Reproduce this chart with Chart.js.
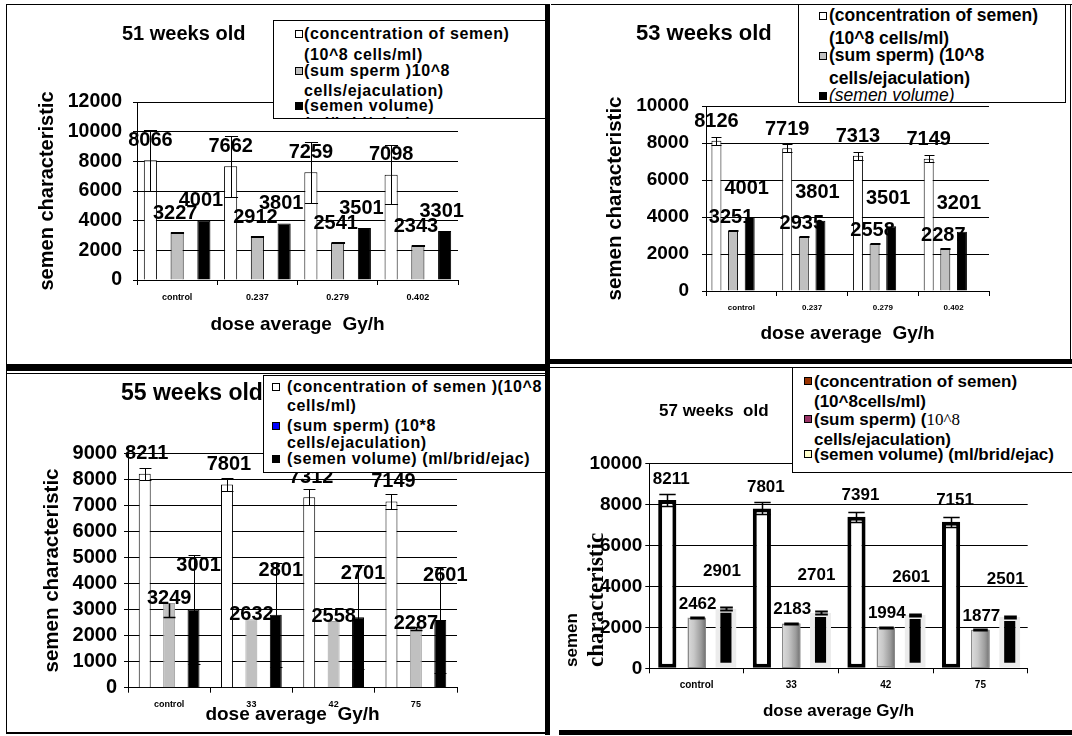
<!DOCTYPE html>
<html><head><meta charset="utf-8">
<script src="https://cdn.jsdelivr.net/npm/chart.js@4.4.1/dist/chart.umd.min.js"></script>
<style>
body{margin:0;background:#fff;width:1072px;height:736px;position:relative;overflow:hidden;font-family:"Liberation Sans",Arial,sans-serif;color:#000;}
canvas.layer{position:absolute;left:0;top:0;}
.ln{position:absolute;background:#000;}
.title{position:absolute;font-weight:bold;white-space:pre;line-height:1;transform:translateY(-50%);}
.legend{position:absolute;border:1px solid #000;background:#fff;overflow:hidden;box-sizing:border-box;}
.legend .t{position:absolute;white-space:pre;font-weight:bold;line-height:1;transform:translateY(-50%);}
.legend .m{position:absolute;width:8px;height:8px;border:1px solid #000;box-sizing:border-box;transform:translateY(-50%);}
.ytitle4{position:absolute;left:560px;top:667px;transform:rotate(-90deg);transform-origin:0 0;white-space:nowrap;font-weight:bold;}
</style>
</head><body>
<canvas id="c51" class="layer" width="1072" height="736"></canvas>
<canvas id="c53" class="layer" width="1072" height="736"></canvas>
<canvas id="c55" class="layer" width="1072" height="736"></canvas>
<canvas id="c57" class="layer" width="1072" height="736"></canvas>

<!-- frames -->
<div class="ln" style="left:6px;top:4px;width:1px;height:730px"></div>
<div class="ln" style="left:6px;top:4px;width:542px;height:1px"></div>
<div class="ln" style="left:6px;top:364px;width:544px;height:7px"></div>
<div class="ln" style="left:6px;top:373px;width:540px;height:1px"></div>
<div class="ln" style="left:6px;top:732px;width:542px;height:2px"></div>
<div class="ln" style="left:545px;top:4px;width:5px;height:731px"></div>
<div class="ln" style="left:551px;top:4px;width:521px;height:1px"></div>
<div class="ln" style="left:1070px;top:4px;width:1px;height:358px"></div>
<div class="ln" style="left:549px;top:359px;width:523px;height:5px"></div>
<div class="ln" style="left:550px;top:367px;width:522px;height:1px"></div>
<div class="ln" style="left:559px;top:730px;width:513px;height:5px"></div>

<!-- titles -->
<div class="title" style="left:122px;top:33px;font-size:20px">51 weeks old</div>
<div class="title" style="left:636px;top:33px;font-size:22px">53 weeks old</div>
<div class="title" style="left:121px;top:392px;font-size:23px">55 weeks old</div>
<div class="title" style="left:659px;top:410px;font-size:17px">57 weeks  old</div>

<div class="ytitle4"><div style="font-family:'Liberation Sans',Arial,sans-serif;font-size:17px;line-height:23px">semen</div><div style="font-family:'Liberation Serif','Times New Roman',serif;font-size:23px;line-height:26px">characteristic</div></div>

<!-- legend 51 -->
<div class="legend" style="left:273px;top:20px;width:273px;height:99px">
  <div class="m" style="left:21px;top:13px;background:#fff"></div>
  <div class="t" style="left:30px;top:13px;font-size:16px;letter-spacing:0.6px">(concentration of semen)</div>
  <div class="t" style="left:30px;top:34px;font-size:16px;letter-spacing:0.6px">(10^8 cells/ml)</div>
  <div class="m" style="left:21px;top:50px;background:#c0c0c0"></div>
  <div class="t" style="left:30px;top:50px;font-size:16px;letter-spacing:0.6px">(sum sperm )10^8</div>
  <div class="t" style="left:30px;top:70px;font-size:16px;letter-spacing:0.6px">cells/ejaculation)</div>
  <div class="m" style="left:21px;top:85px;background:#000"></div>
  <div class="t" style="left:30px;top:85px;font-size:16px;letter-spacing:0.6px">(semen volume)</div>
  <div class="t" style="left:30px;top:103px;font-size:16px;letter-spacing:0.6px">(ml/brid/ejac)</div>
</div>

<!-- legend 53 -->
<div class="legend" style="left:798px;top:4px;width:268px;height:99px">
  <div class="m" style="left:20px;top:11px;background:#fff"></div>
  <div class="t" style="left:30px;top:11px;font-size:17.5px">(concentration of semen)</div>
  <div class="t" style="left:30px;top:34px;font-size:17.5px">(10^8 cells/ml)</div>
  <div class="m" style="left:20px;top:51px;background:#c0c0c0"></div>
  <div class="t" style="left:30px;top:51px;font-size:17.5px">(sum sperm) (10^8</div>
  <div class="t" style="left:30px;top:74px;font-size:17.5px">cells/ejaculation)</div>
  <div class="m" style="left:20px;top:91px;background:#000"></div>
  <div class="t" style="left:30px;top:91px;font-size:17.5px;font-style:italic;font-weight:normal">(semen volume)</div>
</div>

<!-- legend 55 -->
<div class="legend" style="left:263px;top:375px;width:283px;height:98px">
  <div class="m" style="left:8px;top:11px;background:#fff"></div>
  <div class="t" style="left:23px;top:11px;font-size:16px;letter-spacing:0.6px">(concentration of semen )(10^8</div>
  <div class="t" style="left:23px;top:30px;font-size:16px;letter-spacing:0.6px">cells/ml)</div>
  <div class="m" style="left:8px;top:50px;background:#0000ff"></div>
  <div class="t" style="left:23px;top:50px;font-size:16px;letter-spacing:0.6px">(sum sperm) (10*8</div>
  <div class="t" style="left:23px;top:67px;font-size:16px;letter-spacing:0.6px">cells/ejaculation)</div>
  <div class="m" style="left:8px;top:83px;background:#000"></div>
  <div class="t" style="left:23px;top:83px;font-size:16px;letter-spacing:0.6px">(semen volume) (ml/brid/ejac)</div>
</div>

<!-- legend 57 -->
<div class="legend" style="left:792px;top:367px;width:290px;height:106px">
  <div class="m" style="left:11px;top:13px;background:#993300"></div>
  <div class="t" style="left:21px;top:13px;font-size:17px">(concentration of semen)</div>
  <div class="t" style="left:21px;top:33px;font-size:17px">(10^8cells/ml)</div>
  <div class="m" style="left:11px;top:51px;background:#993366"></div>
  <div class="t" style="left:21px;top:51px;font-size:17px">(sum sperm) (<span style="font-family:'Liberation Serif','Times New Roman',serif;font-weight:normal">10^8</span></div>
  <div class="t" style="left:21px;top:71px;font-size:17px">cells/ejaculation)</div>
  <div class="m" style="left:11px;top:86px;background:#ffffcc"></div>
  <div class="t" style="left:21px;top:86px;font-size:17px">(semen volume) (ml/brid/ejac)</div>
</div>

<script>
// ---------- data ----------
const doseGyLabels = ['control', '0.237', '0.279', '0.402'];
const doseLabels = ['control', '33', '42', '75'];

const yTicks51 = [0, 2000, 4000, 6000, 8000, 10000, 12000];
const yTicks53 = [0, 2000, 4000, 6000, 8000, 10000];
const yTicks55 = [0, 1000, 2000, 3000, 4000, 5000, 6000, 7000, 8000, 9000];
const yTicks57 = [0, 2000, 4000, 6000, 8000, 10000];

const w51Concentration = [8066, 7662, 7259, 7098];
const w51ConcentrationErr = [2040, 2040, 2060, 2000];
const w51SumSperm = [3227, 2912, 2541, 2343];
const w51SumSpermErr = [40, 40, 40, 40];
const w51Volume = [4001, 3801, 3501, 3301];

const w53Concentration = [8126, 7719, 7313, 7149];
const w53ConcentrationErr = [210, 220, 210, 200];
const w53SumSperm = [3251, 2935, 2558, 2287];
const w53SumSpermErr = [30, 30, 30, 30];
const w53Volume = [4001, 3801, 3501, 3201];

const w55Concentration = [8211, 7801, 7312, 7149];
const w55ConcentrationErr = [240, 240, 300, 290];
const w55SumSperm = [3249, 2632, 2558, 2287];
const w55SumSpermErrMinus = [520, 0, 0, 60];
const w55SumSpermErrPlus = [0, 0, 0, 60];
const w55Volume = [3001, 2801, 2701, 2601];
const w55VolumeErr = [2090, 2000, 2000, 2050];

const w57Concentration = [8211, 7801, 7391, 7151];
const w57ConcentrationErr = [280, 290, 250, 245];
const w57SumSperm = [2462, 2183, 1994, 1877];
const w57SumSpermErr = [30, 30, 30, 30];
const w57Volume = [2901, 2701, 2601, 2501];
const w57VolumeErr = [70, 70, 70, 70];

// ---------- plugins ----------
const FONT = "'Liberation Sans', Arial, sans-serif";

const gradientPlugin = {
  id: 'gradFill',
  afterDatasetDraw(chart, args) {
    const ds = chart.data.datasets[args.index];
    if (!ds.gradientStops) return;
    const ctx = chart.ctx;
    args.meta.data.forEach((bar) => {
      const {x, y, base, width} = bar.getProps(['x', 'y', 'base', 'width'], true);
      const l = x - width / 2;
      const g = ctx.createLinearGradient(l, 0, l + width, 0);
      ds.gradientStops.forEach(([o, c]) => g.addColorStop(o, c));
      ctx.save();
      ctx.fillStyle = g;
      ctx.fillRect(l, y, width, base - y);
      ctx.strokeStyle = '#8a8a8a';
      ctx.lineWidth = 1;
      ctx.strokeRect(Math.round(l) + 0.5, Math.round(y) + 0.5, Math.round(width) - 1, Math.round(base - y) - 1);
      ctx.restore();
    });
  }
};

const errorBarPlugin = {
  id: 'errBars',
  afterDatasetsDraw(chart) {
    const ctx = chart.ctx;
    const ys = chart.scales.y;
    chart.data.datasets.forEach((ds, di) => {
      if (!ds.errPlus && !ds.errMinus) return;
      const meta = chart.getDatasetMeta(di);
      meta.data.forEach((bar, i) => {
        const v = ds.data[i];
        const p = ds.errPlus ? ds.errPlus[i] : 0;
        const m = ds.errMinus ? ds.errMinus[i] : 0;
        if (!p && !m) return;
        const x = Math.round(bar.x) + 0.5;
        const half = bar.width * (ds.capScale || 0.5);
        const yTop = Math.round(ys.getPixelForValue(v + p)) + 0.5;
        const yBot = Math.round(ys.getPixelForValue(v - m)) + 0.5;
        ctx.save();
        ctx.strokeStyle = '#000';
        ctx.lineWidth = ds.errWidth || 1;
        ctx.beginPath();
        ctx.moveTo(x, yTop); ctx.lineTo(x, yBot);
        if (p) { ctx.moveTo(x - half, yTop); ctx.lineTo(x + half, yTop); }
        if (m) { ctx.moveTo(x - half, yBot); ctx.lineTo(x + half, yBot); }
        ctx.stroke();
        ctx.restore();
      });
    });
  }
};

const valueLabelPlugin = {
  id: 'valLabels',
  afterDatasetsDraw(chart, args, opts) {
    const ctx = chart.ctx;
    chart.data.datasets.forEach((ds, di) => {
      if (!ds.labelOffset) return;
      const meta = chart.getDatasetMeta(di);
      meta.data.forEach((bar, i) => {
        ctx.save();
        ctx.font = 'bold ' + opts.size + 'px ' + FONT;
        ctx.fillStyle = '#000';
        ctx.textAlign = 'center';
        ctx.textBaseline = 'middle';
        ctx.fillText(String(ds.data[i]), bar.x + ds.labelOffset[0], bar.y + ds.labelOffset[1]);
        ctx.restore();
      });
    });
  }
};

// ---------- panel builder ----------
function makePanel(p) {
  const W = 1072, H = 736;
  new Chart(document.getElementById(p.id), {
    type: 'bar',
    data: {labels: p.labels, datasets: p.datasets},
    plugins: [gradientPlugin, errorBarPlugin, valueLabelPlugin],
    options: {
      responsive: false,
      animation: false,
      events: [],
      layout: {padding: {left: p.yAxisLeft, top: p.area.top, right: W - p.area.right, bottom: H - p.xTitleBottom}},
      datasets: {bar: {categoryPercentage: p.catPct, grouped: true}},
      plugins: {
        legend: {display: false},
        tooltip: {enabled: false},
        valLabels: {size: p.valueFont}
      },
      scales: {
        x: {
          offset: true,
          grid: {drawOnChartArea: false, drawTicks: true, tickLength: 5, color: '#000', offset: true},
          border: {color: '#000', width: 1},
          ticks: {color: '#000', padding: p.catPad, font: {family: FONT, size: p.catFont, weight: 'bold', lineHeight: 1.2}, maxRotation: 0, autoSkip: false},
          title: {display: true, text: p.xTitle, color: '#000', padding: 0, font: {family: FONT, size: p.xTitleFont, weight: 'bold', lineHeight: 1.2}},
          afterFit: (s) => { s.height = p.xTitleBottom - p.area.bottom; }
        },
        y: {
          min: p.yTicks[0],
          max: p.yTicks[p.yTicks.length - 1],
          afterBuildTicks: (s) => { s.ticks = p.yTicks.map(v => ({value: v})); },
          grid: {color: '#000', lineWidth: 1, tickLength: 4, drawTicks: true},
          border: {color: '#000', width: 1},
          ticks: {color: '#000', padding: p.tickPad, autoSkip: false, font: {family: FONT, size: p.tickFont, weight: 'bold', lineHeight: 1.2}, callback: (v) => String(v)},
          title: {display: !!p.yTitle, text: p.yTitle || '', color: '#000', padding: 0, font: {family: FONT, size: p.yTitleFont || 20, weight: 'bold', lineHeight: 1.2}},
          afterFit: (s) => { s.width = p.area.left - p.yAxisLeft; }
        }
      }
    }
  });
}

// 51 weeks
makePanel({
  id: 'c51', labels: doseGyLabels, yTicks: yTicks51,
  area: {left: 137, top: 102, right: 458, bottom: 280},
  yAxisLeft: 35, xTitleBottom: 336.4,
  tickFont: 19.5, tickPad: 11, catFont: 9, catPad: 7, xTitleFont: 19, yTitleFont: 20,
  xTitle: 'dose average  Gy/h', yTitle: 'semen characteristic', valueFont: 20, catPct: 1.0,
  datasets: [
    {label: '(concentration of semen) (10^8 cells/ml)', data: w51Concentration, errPlus: w51ConcentrationErr, errMinus: w51ConcentrationErr,
     backgroundColor: '#ffffff', borderColor: '#000', borderWidth: 1, barPercentage: 0.49, labelOffset: [0, -20]},
    {label: '(sum sperm )10^8 cells/ejaculation)', data: w51SumSperm, errPlus: w51SumSpermErr, errMinus: w51SumSpermErr,
     backgroundColor: '#c0c0c0', borderColor: '#000', borderWidth: 1, barPercentage: 0.49, labelOffset: [-2, -19]},
    {label: '(semen volume) (ml/brid/ejac)', data: w51Volume,
     backgroundColor: '#000000', borderColor: '#000', borderWidth: 1, barPercentage: 0.49, labelOffset: [-3, -20]}
  ]
});

// 53 weeks (chart contains an empty fourth series slot)
makePanel({
  id: 'c53', labels: doseGyLabels, yTicks: yTicks53,
  area: {left: 706, top: 106, right: 989, bottom: 291},
  yAxisLeft: 603.5, xTitleBottom: 344.7,
  tickFont: 19, tickPad: 13, catFont: 8, catPad: 7, xTitleFont: 19, yTitleFont: 20.5,
  xTitle: 'dose average  Gy/h', yTitle: 'semen characteristic', valueFont: 20, catPct: 0.94,
  datasets: [
    {label: '(concentration of semen) (10^8 cells/ml)', data: w53Concentration, errPlus: w53ConcentrationErr, errMinus: w53ConcentrationErr,
     backgroundColor: '#ffffff', borderColor: '#000', borderWidth: 1, barPercentage: 0.6, labelOffset: [0, -19]},
    {label: '(sum sperm) (10^8 cells/ejaculation)', data: w53SumSperm, errPlus: w53SumSpermErr, errMinus: w53SumSpermErr,
     backgroundColor: '#c0c0c0', borderColor: '#000', borderWidth: 1, barPercentage: 0.6, labelOffset: [-2, -13]},
    {label: '(semen volume)', data: w53Volume,
     backgroundColor: '#000000', borderColor: '#000', borderWidth: 1, barPercentage: 0.6, labelOffset: [-3, -28]},
    {label: '', data: [], backgroundColor: 'rgba(0,0,0,0)', barPercentage: 0.6}
  ]
});

// 55 weeks
makePanel({
  id: 'c55', labels: doseLabels, yTicks: yTicks55,
  area: {left: 128, top: 453.3, right: 457, bottom: 687.7},
  yAxisLeft: 40.5, xTitleBottom: 725.7,
  tickFont: 20, tickPad: 7, catFont: 9, catPad: 6, xTitleFont: 19, yTitleFont: 20.5,
  xTitle: 'dose average  Gy/h', yTitle: 'semen characteristic', valueFont: 20, catPct: 0.89,
  datasets: [
    {label: '(concentration of semen )(10^8 cells/ml)', data: w55Concentration, errPlus: w55ConcentrationErr, errMinus: w55ConcentrationErr,
     backgroundColor: '#ffffff', borderColor: '#000', borderWidth: 1, barPercentage: 0.49, labelOffset: [2, -20]},
    {label: '(sum sperm) (10*8 cells/ejaculation)', data: w55SumSperm, errPlus: w55SumSpermErrPlus, errMinus: w55SumSpermErrMinus, errWidth: 1.5,
     backgroundColor: '#c0c0c0', borderColor: '#a0a0a0', borderWidth: 1, barPercentage: 0.49, labelOffset: [0, -5]},
    {label: '(semen volume) (ml/brid/ejac)', data: w55Volume, errPlus: w55VolumeErr, errMinus: w55VolumeErr,
     backgroundColor: '#000000', borderColor: '#000', borderWidth: 1, barPercentage: 0.49, labelOffset: [5, -44]}
  ]
});

// 57 weeks
makePanel({
  id: 'c57', labels: doseLabels, yTicks: yTicks57,
  area: {left: 649.3, top: 463.3, right: 1027.7, bottom: 668.3},
  yAxisLeft: 562, xTitleBottom: 721.9,
  tickFont: 19, tickPad: 3, catFont: 10, catPad: 6, xTitleFont: 17,
  xTitle: 'dose average Gy/h', yTitle: '', valueFont: 17, catPct: 0.93,
  datasets: [
    {label: '(concentration of semen) (10^8cells/ml)', data: w57Concentration, errPlus: w57ConcentrationErr, errMinus: w57ConcentrationErr, errWidth: 1.5, capScale: 0.45,
     backgroundColor: '#ffffff', borderColor: '#000', borderWidth: 4, borderSkipped: false, barPercentage: 0.62, labelOffset: [4, -21]},
    {label: '(sum sperm) (10^8 cells/ejaculation)', data: w57SumSperm, errPlus: w57SumSpermErr, errMinus: w57SumSpermErr, errWidth: 2, capScale: 0.4,
     backgroundColor: '#b8b8b8', borderWidth: 0, barPercentage: 0.62, labelOffset: [1, -14],
     gradientStops: [[0, '#dcdcdc'], [0.35, '#c8c8c8'], [0.75, '#9c9c9c'], [1, '#707070']]},
    {label: '(semen volume) (ml/brid/ejac)', data: w57Volume, errPlus: w57VolumeErr, errMinus: w57VolumeErr, errWidth: 2, capScale: 0.3,
     backgroundColor: '#000000', borderColor: '#ececec', borderWidth: {left: 5, right: 5, top: 4, bottom: 5}, borderSkipped: false, barPercentage: 0.72, labelOffset: [-4, -38]}
  ]
});
</script>
</body></html>
